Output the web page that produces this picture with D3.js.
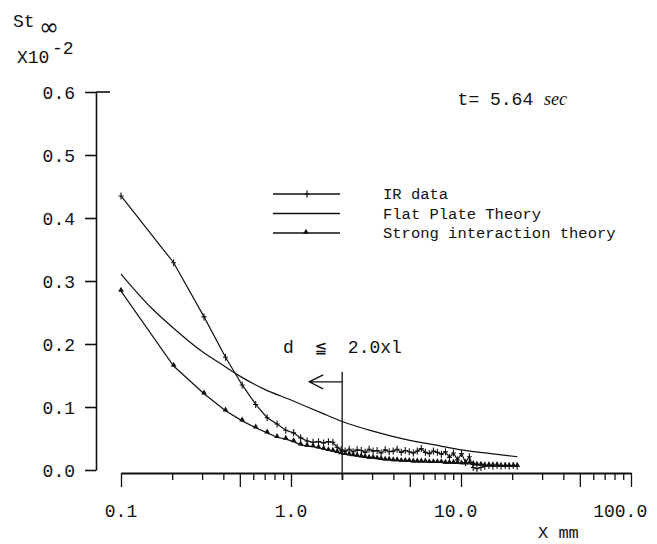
<!DOCTYPE html>
<html>
<head>
<meta charset="utf-8">
<script src="https://cdn.jsdelivr.net/npm/d3@7"></script>
<style>
  body { margin: 0; background: #fff; }
  svg { display: block; }
  text { font-family: "Liberation Mono", "DejaVu Sans Mono", monospace; fill: #111; }
</style>
</head>
<body>
<div id="chart"></div>
<script>
// sample positions along the plate (mm), shared by IR data and strong interaction theory
const sampleX = [0.1, 0.204, 0.308, 0.412, 0.516, 0.62, 0.724, 0.828, 0.932, 1.036, 1.14, 1.244, 1.348, 1.452, 1.556, 1.66, 1.764, 1.868, 1.972,
  2.08, 2.2, 2.32, 2.45, 2.59, 2.73, 2.88, 3.04, 3.21, 3.39, 3.58, 3.78, 3.99, 4.21, 4.45, 4.7, 4.96, 5.24, 5.53, 5.84,
  6.17, 6.51, 6.88, 7.26, 7.67, 8.1, 8.55, 9.03, 9.53, 10.07, 10.63, 11.2, 11.8,
  12.4, 13.1, 13.8, 14.6, 15.4, 16.3, 17.2, 18.2, 19.2, 20.3, 21.4];

const irData = [0.435, 0.329, 0.243, 0.179, 0.135, 0.104, 0.083, 0.073, 0.063, 0.059, 0.051, 0.046, 0.044, 0.045, 0.043, 0.045, 0.044, 0.036, 0.032,
  0.030, 0.033, 0.029, 0.032, 0.031, 0.028, 0.033, 0.030, 0.031, 0.027, 0.032, 0.029, 0.030, 0.033, 0.028, 0.031, 0.029, 0.027, 0.030, 0.034,
  0.028, 0.026, 0.030, 0.028, 0.025, 0.029, 0.020, 0.027, 0.016, 0.026, 0.012, 0.021, 0.004,
  0.002, 0.004, 0.006, 0.007, 0.006, 0.007, 0.006, 0.007, 0.006, 0.007, 0.006];

const strongTheory = [0.284, 0.165, 0.121, 0.094, 0.078, 0.067, 0.059, 0.052, 0.049, 0.045, 0.040, 0.038, 0.037, 0.035, 0.033, 0.031, 0.030, 0.028, 0.026,
  0.025, 0.024, 0.023, 0.022, 0.021, 0.020, 0.019, 0.019, 0.018, 0.017, 0.016, 0.016, 0.015, 0.015, 0.014, 0.014, 0.014, 0.013, 0.013, 0.013,
  0.013, 0.012, 0.012, 0.012, 0.012, 0.011, 0.011, 0.011, 0.011, 0.010, 0.010, 0.010, 0.009,
  0.008, 0.008, 0.007, 0.007, 0.007, 0.007, 0.006, 0.006, 0.006, 0.006, 0.006];

const flatX = [0.1, 0.15, 0.2, 0.3, 0.4, 0.5, 0.7, 1.0, 1.5, 2.0, 3.0, 5.0, 7.0, 10, 15, 21.5];
const flatTheory = [0.311, 0.258, 0.227, 0.188, 0.166, 0.149, 0.128, 0.111, 0.091, 0.077, 0.062, 0.047, 0.040, 0.032, 0.026, 0.021];

const yTicks = [0, 0.1, 0.2, 0.3, 0.4, 0.5, 0.6];
const xLabels = ["0.1", "1.0", "10.0", "100.0"];
const legendLabels = ["IR data", "Flat Plate Theory", "Strong interaction theory"];

const width = 657;
const height = 544;
const axisX = 96;   // y axis position
const axisY = 473;  // x axis position

const svg = d3.select("#chart").append("svg")
  .attr("width", width)
  .attr("height", height);

const x = d3.scaleLog().domain([0.1, 100]).range([121, 631]);
const y = d3.scaleLinear().domain([0, 0.6]).range([470, 92]);

// x axis, ticks at 1..9 of each decade
const xTickValues = [];
for (let e = -1; e < 2; e++) {
  for (let m = 1; m < 10; m++) xTickValues.push(+(m * Math.pow(10, e)).toPrecision(2));
}
xTickValues.push(100);

const gx = svg.append("g")
  .attr("transform", `translate(0,${axisY})`)
  .call(d3.axisBottom(x).tickValues(xTickValues).tickSize(7).tickSizeOuter(0).tickFormat(""));
gx.select(".domain").attr("stroke-width", 2).attr("stroke", "#111");
gx.selectAll(".tick line")
  .attr("stroke", "#111")
  .attr("stroke-width", 1.3)
  .attr("y2", d => {
    const m = Math.round(d / Math.pow(10, Math.floor(Math.log10(d) + 1e-9)));
    return (m === 1 || m === 5) ? 14 : 7;
  });

svg.append("g").selectAll("text")
  .data(xLabels)
  .join("text")
  .attr("x", d => x(+d))
  .attr("y", 517)
  .attr("font-size", 18)
  .text(d => d)
  .each(function (d) {
    const cw = this.getComputedTextLength() / d.length;
    d3.select(this).attr("dx", -(d.indexOf(".") + 0.5) * cw);
  });

svg.append("text")
  .attr("x", 538)
  .attr("y", 538)
  .attr("font-size", 17)
  .text("X mm");

// y axis
const gy = svg.append("g")
  .attr("transform", `translate(${axisX},0)`)
  .call(d3.axisLeft(y).tickValues(yTicks).tickSize(11).tickSizeOuter(0).tickPadding(10).tickFormat(d3.format(".1f")));
gy.attr("font-size", 18);
gy.select(".domain").attr("stroke-width", 1.6).attr("stroke", "#111");
gy.selectAll(".tick line").attr("stroke", "#111").attr("stroke-width", 1.6);
gy.selectAll(".tick text").attr("dy", "0.36em");

svg.append("line")
  .attr("x1", axisX)
  .attr("x2", axisX + 14)
  .attr("y1", y(0.6))
  .attr("y2", y(0.6))
  .attr("stroke", "#111")
  .attr("stroke-width", 1.6);

// y title
const title = svg.append("text").attr("font-size", 18);
title.append("tspan").attr("x", 13).attr("y", 27).text("St");
title.append("tspan").attr("x", 39).attr("y", 35).attr("font-family", "DejaVu Sans").attr("font-size", 24).text("∞");
const scaleNote = svg.append("text").attr("font-size", 18);
scaleNote.append("tspan").attr("x", 17).attr("y", 63).text("X10");
scaleNote.append("tspan").attr("x", 52).attr("y", 54).text("-2");

// curves
const line = d3.line().x(d => x(d[0])).y(d => y(d[1]));

svg.append("path")
  .datum(d3.zip(flatX, flatTheory))
  .attr("fill", "none")
  .attr("stroke", "#111")
  .attr("stroke-width", 1.2)
  .attr("d", line.curve(d3.curveMonotoneX));

line.curve(d3.curveLinear);

svg.append("path")
  .datum(d3.zip(sampleX, irData))
  .attr("fill", "none")
  .attr("stroke", "#111")
  .attr("stroke-width", 1.2)
  .attr("d", line);

svg.append("path")
  .datum(d3.zip(sampleX, strongTheory))
  .attr("fill", "none")
  .attr("stroke", "#111")
  .attr("stroke-width", 1.2)
  .attr("d", line);

const plus = (px, py) => `M${px},${py - 3.5}V${py + 3.5}M${px - 2.5},${py}H${px + 2.5}`;

svg.append("g").selectAll("path")
  .data(d3.zip(sampleX, irData))
  .join("path")
  .attr("d", d => plus(x(d[0]), y(d[1])))
  .attr("stroke", "#111")
  .attr("stroke-width", 1.1)
  .attr("fill", "none");

const tri = d3.symbol(d3.symbolTriangle, 14);
svg.append("g").selectAll("path")
  .data(d3.zip(sampleX, strongTheory))
  .join("path")
  .attr("transform", d => `translate(${x(d[0])},${y(d[1]) - 1})`)
  .attr("d", tri)
  .attr("fill", "#111");

// legend
const legend = svg.append("g").attr("transform", "translate(273,194)");
legendLabels.forEach((label, i) => {
  const row = legend.append("g").attr("transform", `translate(0,${i * 19.5})`);
  row.append("line")
    .attr("x1", 0).attr("x2", 67)
    .attr("stroke", "#111")
    .attr("stroke-width", 1.6);
  if (i === 0) {
    row.append("path").attr("d", plus(34, 0)).attr("stroke", "#111").attr("stroke-width", 1.2);
  }
  if (i === 2) {
    row.append("path").attr("transform", "translate(33,-1)").attr("d", tri).attr("fill", "#111");
  }
  row.append("text")
    .attr("x", 110)
    .attr("y", 5)
    .attr("font-size", 15.5)
    .text(label);
});

// time label
const timeLabel = svg.append("text")
  .attr("x", 567)
  .attr("y", 105)
  .attr("text-anchor", "end")
  .attr("font-size", 18);
timeLabel.append("tspan").text("t= 5.64 ");
timeLabel.append("tspan").attr("font-family", "Liberation Serif").attr("font-style", "italic").text("sec");

// d <= 2.0 xl marker
const dLimit = 2.0;
svg.append("line")
  .attr("x1", x(dLimit)).attr("x2", x(dLimit))
  .attr("y1", y(0.156)).attr("y2", axisY + 7)
  .attr("stroke", "#111")
  .attr("stroke-width", 1.3);

const arrowY = y(0.14);
const tipX = x(1.28);
svg.append("path")
  .attr("d", `M${x(dLimit)},${arrowY}H${tipX}M${tipX + 14},${arrowY - 7}L${tipX},${arrowY}L${tipX + 14},${arrowY + 7}`)
  .attr("fill", "none")
  .attr("stroke", "#111")
  .attr("stroke-width", 1.3);

svg.append("text")
  .attr("x", 283)
  .attr("y", 353)
  .attr("font-size", 18)
  .attr("xml:space", "preserve")
  .style("white-space", "pre")
  .text("d  ≦  2.0xl");
</script>
</body>
</html>
